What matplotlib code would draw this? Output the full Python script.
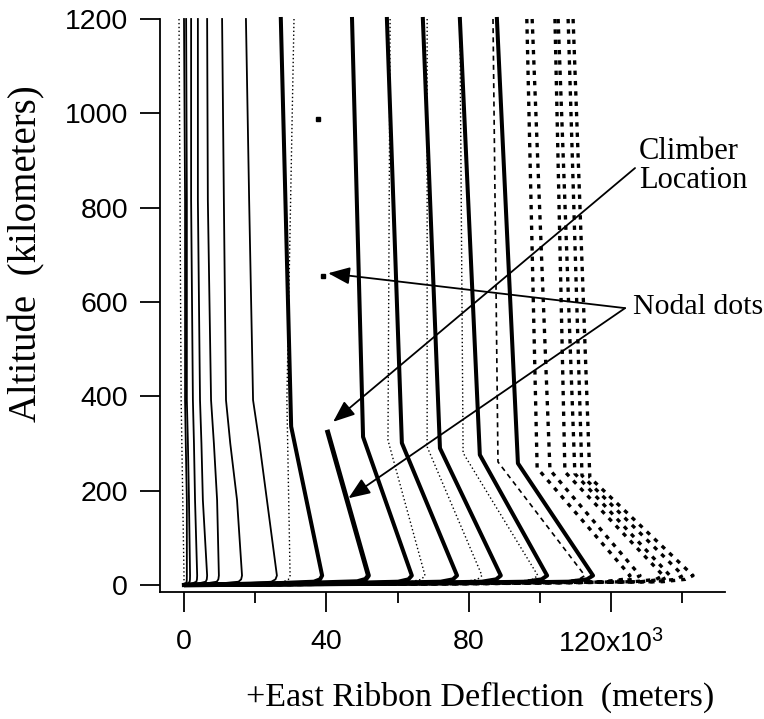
import matplotlib.pyplot as plt
from matplotlib.ticker import FixedLocator

plt.rcParams['font.family'] = ['Liberation Sans', 'DejaVu Sans']
plt.rcParams['mathtext.fontset'] = 'custom'
plt.rcParams['mathtext.rm'] = 'Liberation Sans'

# deflection in 10^3 m, altitude in km
# thin solid profiles, sampled at fixed altitudes
thin_alt = [1200, 816, 392, 300, 180, 20]
thin_x = [
    [0.0, 0.3, 0.3, 0.5, 0.8, 0.8],
    [0.6, 0.8, 0.8, 1.1, 1.4, 1.7],
    [2.0, 2.0, 2.5, 2.8, 3.1, 3.7],
    [3.9, 3.9, 4.5, 4.9, 5.3, 6.5],
    [6.5, 6.7, 7.6, 8.4, 9.3, 9.8],
    [10.7, 11.2, 11.8, 13.0, 14.9, 16.3],
    [17.4, 18.3, 19.4, 21.2, 23.3, 26.1],
]

# heavy solid profiles: top, knee, base
thick_top = [27.2, 47.2, 57.0, 67.1, 77.5, 87.9]
thick_knee_alt = [336, 314, 301, 290, 276, 258]
thick_knee = [30.1, 50.3, 61.2, 71.9, 83.1, 93.8]
thick_base = [38.8, 64.0, 76.7, 89.0, 102.0, 114.9]

# ribbon below the climber
climber_alt = 329
climber_x = 40.2
climber_base = 51.8

# fine dotted profiles
dot_top = [-1.4, 30.9, 57.9, 68.3, 77.5]
dot_knee_alt = [392, 392, 307, 293, 280]
dot_knee = [-0.8, 28.9, 57.3, 68.3, 78.4]
dot_base = [0.0, 29.8, 67.7, 83.7, 99.4]

# dashed profile
dash_top = [86.8]
dash_knee_alt = [261]
dash_knee = [88.2]
dash_base = [112.6]

# heavy dotted profiles
heavy_top = [96.3, 97.8, 104.2, 105.1, 107.9, 109.3]
heavy_knee_alt = [248, 244, 240, 236, 232, 228]
heavy_knee = [99.2, 102.8, 107.0, 109.8, 111.8, 114.0]
heavy_base = [125.3, 128.1, 134.6, 136.5, 140.2, 143.0]

# foot of every profile, where it bends back to the anchor
base_alt = 20
foot_alt = [12, 7, 3, 0]
foot_frac = [0.985, 0.94, 0.6, 0.0]

# nodal dots above the climber
node_x = [37.6, 39.1]
node_alt = [988, 656]

xticks = [0, 40, 80, 120]
xticklabels = ['0', '40', '80', r'$\mathregular{120x10^{3}}$']
xminor = [20, 60, 100, 140]
yticks = [0, 200, 400, 600, 800, 1000, 1200]


def foot(base):
    return [base * f for f in foot_frac], list(foot_alt)


def profile(top, knee_alt, knee, base):
    fx, fy = foot(base)
    return [top, knee, base] + fx, [1200, knee_alt, base_alt] + fy


fig = plt.figure(figsize=(7.64, 7.19), dpi=100)
ax = fig.add_axes([160 / 764, 1 - 592 / 719, 565 / 764, 573 / 719])

for xs in thin_x:
    fx, fy = foot(xs[-1])
    ax.plot(xs + fx, thin_alt + fy, color='black', lw=1.3, clip_on=False)

for t, ka, k, b in zip(dot_top, dot_knee_alt, dot_knee, dot_base):
    xs, ys = profile(t, ka, k, b)
    ax.plot(xs, ys, color='black', lw=1.0, dashes=(1, 1.8), clip_on=False)

for t, ka, k, b in zip(dash_top, dash_knee_alt, dash_knee, dash_base):
    xs, ys = profile(t, ka, k, b)
    ax.plot(xs, ys, color='black', lw=1.2, dashes=(3, 2.5), clip_on=False)

for t, ka, k, b in zip(heavy_top, heavy_knee_alt, heavy_knee, heavy_base):
    xs, ys = profile(t, ka, k, b)
    ax.plot(xs, ys, color='black', lw=2.4, dashes=(1.3, 1.8), clip_on=False)

for t, ka, k, b in zip(thick_top, thick_knee_alt, thick_knee, thick_base):
    xs, ys = profile(t, ka, k, b)
    ax.plot(xs, ys, color='black', lw=2.9, clip_on=False)

fx, fy = foot(climber_base)
ax.plot([climber_x, climber_base] + fx, [climber_alt, base_alt] + fy,
        color='black', lw=3.5, solid_capstyle='butt', clip_on=False)

ax.plot(node_x, node_alt, 's', color='black', ms=3.5, clip_on=False)

# annotations
head = dict(arrowstyle='-|>,head_length=0.55,head_width=0.22', color='black',
            lw=1.3, mutation_scale=24, shrinkA=0, shrinkB=0)
ax.annotate('', xy=(41.9, 346), xytext=(126.7, 884), arrowprops=head,
            annotation_clip=False)
ax.annotate('', xy=(40.5, 661), xytext=(123.9, 587), arrowprops=head,
            annotation_clip=False)
ax.annotate('', xy=(46.2, 184), xytext=(123.9, 587), arrowprops=head,
            annotation_clip=False)
ax.text(127.8, 888, 'Climber\nLocation', family='Liberation Serif', fontsize=22,
        ha='left', va='center', linespacing=1.0)
ax.text(126.0, 589, 'Nodal dots', family='Liberation Serif', fontsize=21.5,
        ha='left', va='center')

ax.set_xlim(-6.74, 151.97)
ax.set_ylim(-14.84, 1200)
ax.spines['top'].set_visible(False)
ax.spines['right'].set_visible(False)
for s in ('left', 'bottom'):
    ax.spines[s].set_linewidth(1.3)

ax.xaxis.set_major_locator(FixedLocator(xticks))
ax.set_xticklabels(xticklabels)
ax.xaxis.set_minor_locator(FixedLocator(xminor))
ax.set_yticks(yticks)
ax.tick_params(axis='x', which='major', length=14.4, width=1.3, pad=12, labelsize=20.5)
ax.tick_params(axis='x', which='minor', length=7.9, width=1.3)
ax.tick_params(axis='y', which='major', length=14.4, width=1.3, pad=8.5, labelsize=20.5)

fig.text(27 / 764, 1 - 254 / 719, 'Altitude  (kilometers)', family='Liberation Serif',
         fontsize=28, rotation=90, ha='center', va='center')
fig.text(480 / 764, 1 - 697 / 719, '+East Ribbon Deflection  (meters)',
         family='Liberation Serif', fontsize=24.5, ha='center', va='center')

fig.savefig('out.png', dpi=100)
